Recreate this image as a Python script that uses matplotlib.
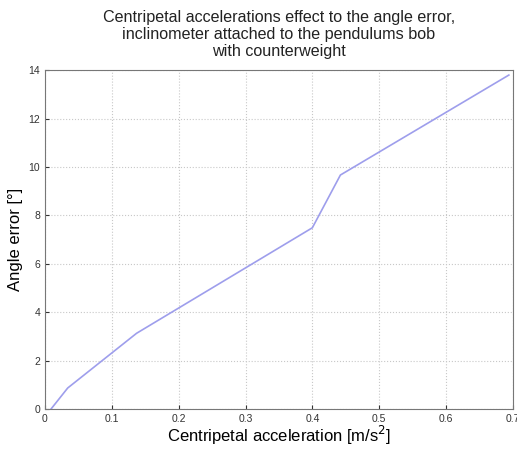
import matplotlib
matplotlib.use("Agg")
import matplotlib.pyplot as plt

accel = [0.009, 0.034, 0.137, 0.400, 0.442, 0.694]
angle_err = [0.0, 0.87, 3.13, 7.49, 9.67, 13.8]
xticks = [0, 0.1, 0.2, 0.3, 0.4, 0.5, 0.6, 0.7]
xticklabels = ["0", "0.1", "0.2", "0.3", "0.4", "0.5", "0.6", "0.7"]
yticks = [0, 2, 4, 6, 8, 10, 12, 14]

plt.rcParams['font.family'] = ['Liberation Sans', 'DejaVu Sans']

fig = plt.figure(figsize=(5.17, 4.53), dpi=100)
ax = fig.add_axes([0.087, 0.097, 0.905, 0.748])
ax.plot(accel, angle_err, color='#9e9eec', lw=1.2)
ax.set_xlim(0, 0.7)
ax.set_ylim(0, 14)
ax.set_xticks(xticks)
ax.set_xticklabels(xticklabels)
ax.set_yticks(yticks)
ax.grid(True, color='#c8c8c8', linestyle=':', linewidth=0.8)
ax.tick_params(direction='in', labelsize=7.5, colors='#333333', length=3)
for s in ax.spines.values():
    s.set_color('#777777')
    s.set_linewidth(0.8)
ax.set_xlabel('Centripetal acceleration [m/s$^2$]', fontsize=12, labelpad=0)
ax.set_ylabel('Angle error [°]', fontsize=12, labelpad=4)
ax.set_title('Centripetal accelerations effect to the angle error,\n'
             'inclinometer attached to the pendulums bob\nwith counterweight',
             fontsize=11.6, linespacing=1.2, pad=10, color='#222222')
fig.savefig('out.png', dpi=100)
